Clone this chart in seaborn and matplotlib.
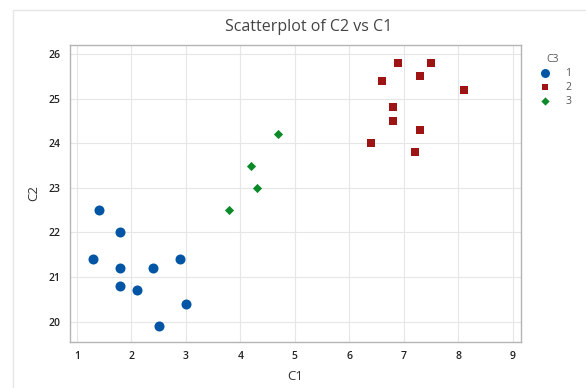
import pandas as pd
import seaborn as sns
import matplotlib.pyplot as plt
from matplotlib.lines import Line2D

# Dados
c1_grupo1 = [1.4, 1.8, 1.3, 1.8, 1.8, 2.1, 2.4, 2.9, 3.0, 2.5]
c2_grupo1 = [22.5, 22.0, 21.4, 21.2, 20.8, 20.7, 21.2, 21.4, 20.4, 19.9]
c1_grupo2 = [6.9, 7.5, 6.6, 7.3, 8.1, 6.8, 6.8, 7.3, 6.4, 7.2]
c2_grupo2 = [25.8, 25.8, 25.4, 25.5, 25.2, 24.8, 24.5, 24.3, 24.0, 23.8]
c1_grupo3 = [3.8, 4.2, 4.3, 4.7]
c2_grupo3 = [22.5, 23.5, 23.0, 24.2]

df = pd.DataFrame({
    "C1": c1_grupo1 + c1_grupo2 + c1_grupo3,
    "C2": c2_grupo1 + c2_grupo2 + c2_grupo3,
    "C3": ["1"] * len(c1_grupo1) + ["2"] * len(c1_grupo2) + ["3"] * len(c1_grupo3),
})

sns.set_style("white")
plt.rcParams["font.family"] = ["Open Sans", "DejaVu Sans"]

fig = plt.figure(figsize=(5.86, 3.88), dpi=100)
ax = fig.add_axes([0.119, 0.119, 0.77, 0.765])

# moldura clara da janela do gráfico (topo e esquerda)
fig.add_artist(Line2D([13 / 586, 1], [1 - 10 / 388] * 2, transform=fig.transFigure, color="#e6e6e6", lw=1))
fig.add_artist(Line2D([13 / 586] * 2, [0, 1 - 10 / 388], transform=fig.transFigure, color="#e6e6e6", lw=1))

cores = {"1": "#0055A5", "2": "#9E1414", "3": "#0B8A2A"}
marcadores = {"1": "o", "2": "s", "3": "D"}
tamanhos = {"1": 52, "2": 30, "3": 22}

for grupo in ["1", "2", "3"]:
    sub = df[df["C3"] == grupo]
    sns.scatterplot(data=sub, x="C1", y="C2", color=cores[grupo], marker=marcadores[grupo],
                    s=tamanhos[grupo], linewidth=0, label=grupo, ax=ax, zorder=3)

ax.set_xlim(0.87, 9.15)
ax.set_ylim(19.55, 26.2)
ax.set_xticks(range(1, 10))
ax.set_yticks(range(20, 27))
ax.grid(True, color="#e6e6e6", linewidth=0.8, zorder=0)
ax.set_axisbelow(True)
for sp in ax.spines.values():
    sp.set_color("#b4b4b4")
    sp.set_linewidth(1)
ax.tick_params(axis="both", labelsize=7.5, length=3, width=0.8, color="#888888", labelcolor="#222222")
for lbl in ax.get_xticklabels() + ax.get_yticklabels():
    lbl.set_fontweight("semibold")

ax.set_xlabel("C1", fontsize=9.5, color="#333333", labelpad=6)
ax.set_ylabel("C2", fontsize=9.5, color="#333333", labelpad=6)
ax.set_title("Scatterplot of C2 vs C1", fontsize=11.5, color="#444444", pad=10, x=0.53)

leg = ax.legend(title="C3", loc="upper left", bbox_to_anchor=(1.02, 0.985), frameon=False,
                fontsize=7.5, title_fontsize=7.5, handletextpad=1.0, borderaxespad=0,
                labelspacing=0.3, markerscale=0.9)
for t in leg.get_texts():
    t.set_color("#555555")
leg.get_title().set_color("#555555")

fig.savefig("out.png", dpi=100)
